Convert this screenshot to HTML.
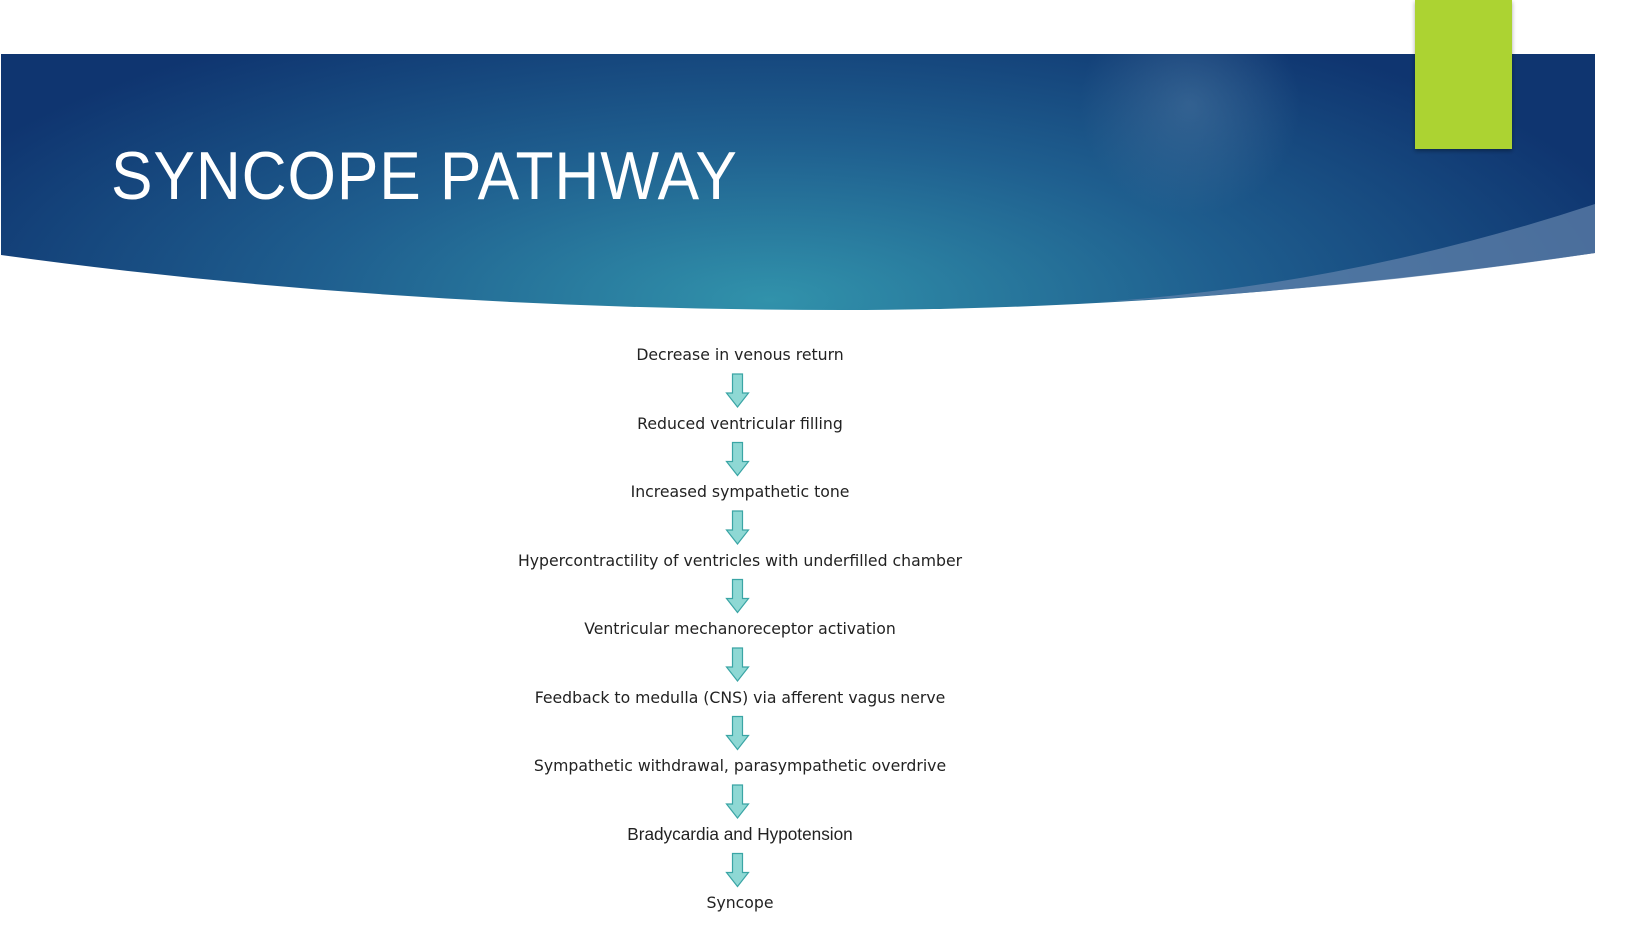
<!DOCTYPE html>
<html><head><meta charset="utf-8"><style>
html,body{margin:0;padding:0;background:#fff;width:1631px;height:952px;overflow:hidden;position:relative}
.t{position:absolute;left:0;width:1480px;text-align:center;font-family:"DejaVu Sans","Liberation Sans",sans-serif;font-size:15.7px;color:#222;white-space:nowrap}
.title{position:absolute;left:111px;top:137px;font-family:"Liberation Sans",sans-serif;font-size:68px;color:#fff;letter-spacing:1px;transform:scaleX(0.915);transform-origin:left top}
</style></head><body>
<svg width="1631" height="952" style="position:absolute;left:0;top:0">
<defs>
<radialGradient id="g" cx="770" cy="300" r="900" gradientUnits="userSpaceOnUse" gradientTransform="translate(770 300) scale(1 0.35) translate(-770 -300)">
<stop offset="0" stop-color="#3192ab"/>
<stop offset="0.5" stop-color="#1f5f8f"/>
<stop offset="1" stop-color="#0f3570"/>
</radialGradient>
<radialGradient id="h" cx="1190" cy="105" r="110" gradientUnits="userSpaceOnUse">
<stop offset="0" stop-color="#4f7aa3" stop-opacity="0.5"/>
<stop offset="1" stop-color="#4f7aa3" stop-opacity="0"/>
</radialGradient>
<filter id="s"><feDropShadow dx="0" dy="2" stdDeviation="2" flood-opacity="0.35"/></filter>
</defs>
<path d="M1 54 H1595 V253 Q1200 310 842 310 Q400 310 1 255 Z" fill="url(#g)"/>
<path d="M1 54 H1595 V253 Q1200 310 842 310 Q400 310 1 255 Z" fill="url(#h)"/>
<path d="M1595 204 Q1350 285 1100 302 Q1350 290 1595 253 Z" fill="#5f80aa" opacity="0.75"/>
<rect x="1415" y="0" width="97" height="149" fill="#acd333" filter="url(#s)"/>
<g fill="#8ed8d4" stroke="#3aa5a5" stroke-width="1.2">
<path id="a" d="M732.5 374 H742.5 V393 H748.5 L737.5 407 L726.5 393 H732.5 Z"/>
<use href="#a" y="68.5"/><use href="#a" y="137"/><use href="#a" y="205.5"/><use href="#a" y="274"/><use href="#a" y="342.5"/><use href="#a" y="411"/><use href="#a" y="479.5"/>
</g>
</svg>
<div class="title">SYNCOPE PATHWAY</div>
<div class="t" style="top:345px">Decrease in venous return</div>
<div class="t" style="top:413.5px">Reduced ventricular filling</div>
<div class="t" style="top:482px">Increased sympathetic tone</div>
<div class="t" style="top:550.5px">Hypercontractility of ventricles with underfilled chamber</div>
<div class="t" style="top:619px">Ventricular mechanoreceptor activation</div>
<div class="t" style="top:687.5px">Feedback to medulla (CNS) via afferent vagus nerve</div>
<div class="t" style="top:756px">Sympathetic withdrawal, parasympathetic overdrive</div>
<div class="t" style="top:824px;font-family:'Liberation Sans',sans-serif;font-size:17.2px">Bradycardia and Hypotension</div>
<div class="t" style="top:893px">Syncope</div>
</body></html>
